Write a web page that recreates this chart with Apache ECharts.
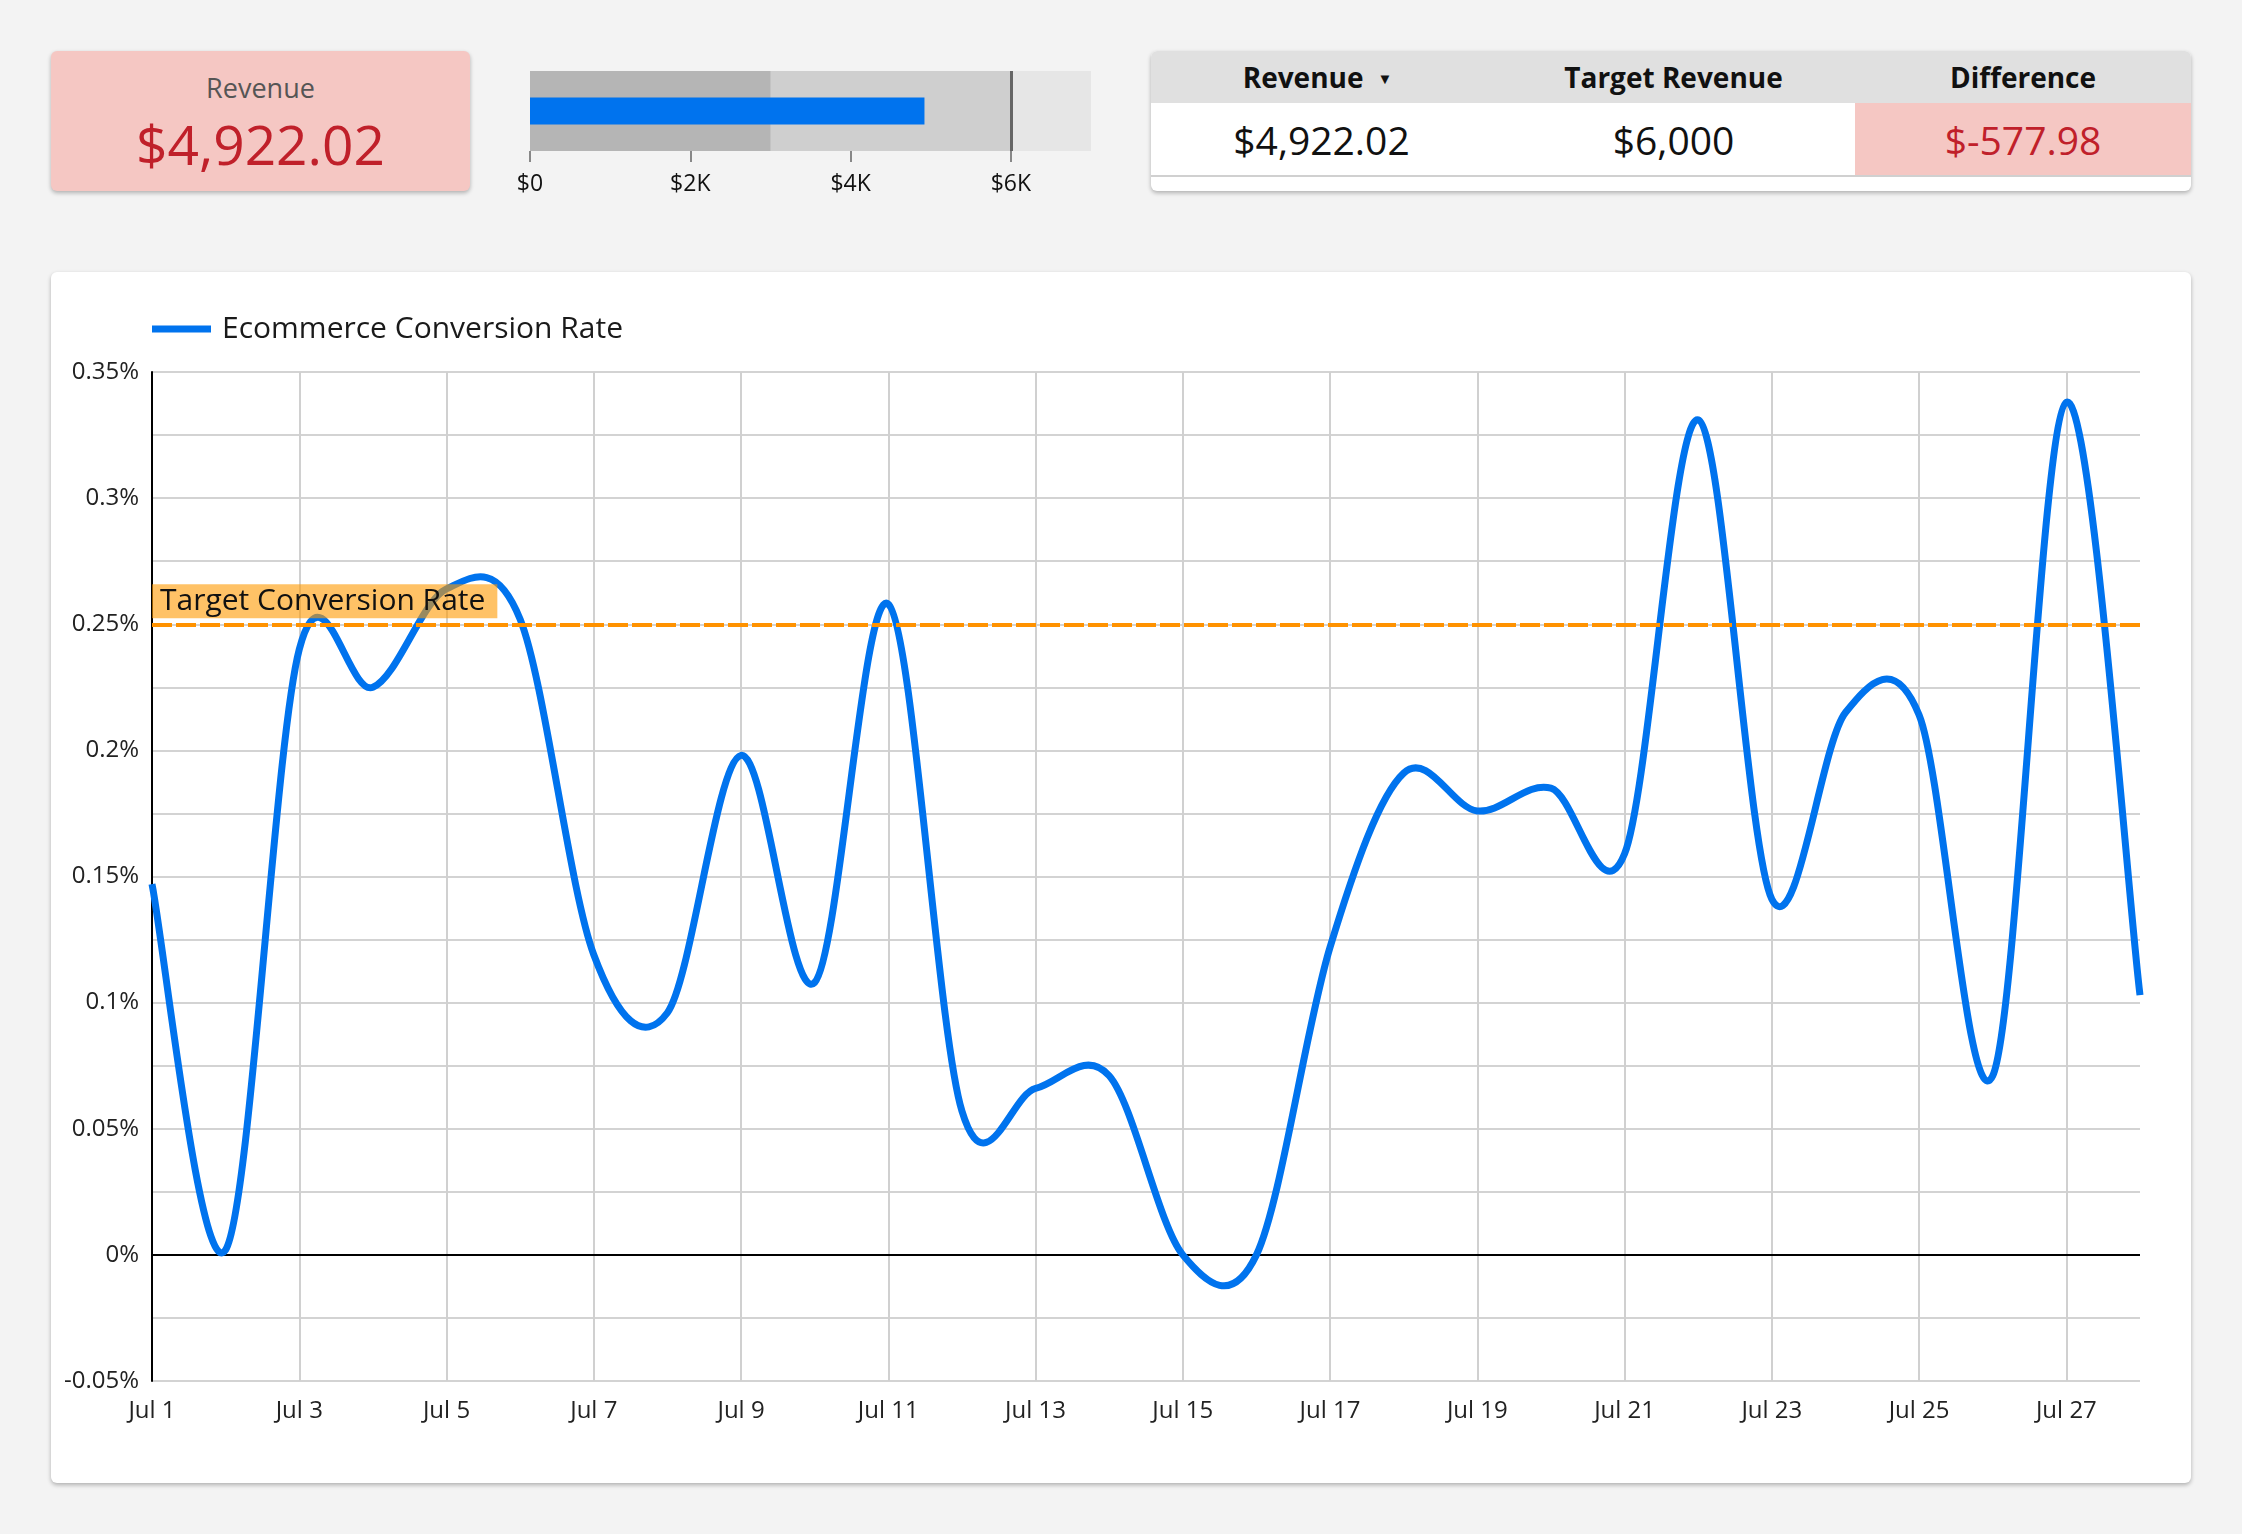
<!DOCTYPE html>
<html>
<head>
<meta charset="utf-8">
<script src="https://cdn.jsdelivr.net/npm/echarts@6.0.0/dist/echarts.min.js"></script>
<style>
  html, body { margin: 0; padding: 0; }
  body {
    width: 2242px; height: 1534px; position: relative; overflow: hidden;
    background: #f3f3f3; font-family: 'Open Sans', sans-serif;
  }
  .card {
    position: absolute; border-radius: 6px;
    box-shadow: 0 2px 4px rgba(0, 0, 0, 0.28);
  }
  #score { left: 51px; top: 51px; width: 419px; height: 140px; background: #f5c7c3; text-align: center; }
  #score .lbl { position: absolute; left: 0; right: 0; top: 18px; font-size: 27px; color: #555; }
  #score .val { position: absolute; left: 0; right: 0; top: 55px; font-size: 55px; color: #c0202a; line-height: 76px; }
  #tbl { left: 1151px; top: 51px; width: 1040px; height: 140px; background: #fff; overflow: hidden; }
  #tbl table { border-collapse: collapse; width: 1040px; table-layout: fixed; }
  #tbl th { height: 52px; background: #e0e0e0; font-size: 28px; font-weight: 700; color: #111; padding: 0; }
  #tbl td { height: 72px; font-size: 39px; color: #111; text-align: center; padding: 0; border-bottom: 2px solid #d0d0d0; }
  #tbl td.neg { background: #f5c7c3; color: #c0202a; }
  #tbl .arrow { font-size: 15px; margin-left: 14px; vertical-align: 4px; }
  #tbl th.first { padding-right: 8px; }
  #panel { left: 51px; top: 272px; width: 2140px; height: 1211px; background: #fff; }
  #chart { position: absolute; left: 0; top: 0; width: 2242px; height: 1534px; }
</style>
</head>
<body>
<div class="card" id="score">
  <div class="lbl">Revenue</div>
  <div class="val">$4,922.02</div>
</div>
<div class="card" id="tbl">
  <table>
    <colgroup><col style="width:341px"><col style="width:363px"><col style="width:336px"></colgroup>
    <tr><th class="first">Revenue<span class="arrow">&#9660;</span></th><th>Target Revenue</th><th>Difference</th></tr>
    <tr><td>$4,922.02</td><td>$6,000</td><td class="neg">$-577.98</td></tr>
  </table>
</div>
<div class="card" id="panel"></div>
<div id="chart"></div>
<script>
// 날짜
var days = ['Jul 1', 'Jul 2', 'Jul 3', 'Jul 4', 'Jul 5', 'Jul 6', 'Jul 7', 'Jul 8', 'Jul 9', 'Jul 10',
  'Jul 11', 'Jul 12', 'Jul 13', 'Jul 14', 'Jul 15', 'Jul 16', 'Jul 17', 'Jul 18', 'Jul 19', 'Jul 20',
  'Jul 21', 'Jul 22', 'Jul 23', 'Jul 24', 'Jul 25', 'Jul 26', 'Jul 27', 'Jul 28'];

// 전환율 (%)
var conversionRate = [0.147, 0.002, 0.240, 0.225, 0.264, 0.252, 0.119, 0.096, 0.198, 0.108,
  0.258, 0.057, 0.066, 0.071, 0.000, 0.000, 0.122, 0.191, 0.176, 0.185,
  0.159, 0.331, 0.141, 0.215, 0.214, 0.071, 0.338, 0.103];

var targetRate = 0.25;

// 불릿 차트
var bulletRanges = [7000, 6000, 3000];
var bulletColors = ['#e6e6e6', '#cfcfcf', '#b5b5b5'];
var bulletTicks = [0, 2000, 4000, 6000];
var revenue = 4922.02;
var targetRevenue = 6000;

var blue = '#0073ee';
var font = 'Open Sans';

var chart = echarts.init(document.getElementById('chart'));

var bandSeries = bulletRanges.map(function (v, i) {
  return {
    type: 'bar',
    xAxisIndex: 0,
    yAxisIndex: 0,
    data: [v],
    barWidth: 80,
    barGap: '-100%',
    silent: true,
    itemStyle: { color: bulletColors[i] }
  };
});

// Catmull-Rom 곡선 (축 좌표로 변환 후 그림)
function renderCurve(params, api) {
  if (params.dataIndex !== 0) return null;
  var p = conversionRate.map(function (v, i) { return api.coord([i, v]); });
  var d = 'M' + p[0][0] + ' ' + p[0][1];
  for (var i = 0; i < p.length - 1; i++) {
    var p0 = p[i - 1] || p[i];
    var p1 = p[i];
    var p2 = p[i + 1];
    var p3 = p[i + 2] || p[i + 1];
    var c1x = p1[0] + (p2[0] - p0[0]) / 6;
    var c1y = p1[1] + (p2[1] - p0[1]) / 6;
    var c2x = p2[0] - (p3[0] - p1[0]) / 6;
    var c2y = p2[1] - (p3[1] - p1[1]) / 6;
    d += ' C' + c1x + ' ' + c1y + ' ' + c2x + ' ' + c2y + ' ' + p2[0] + ' ' + p2[1];
  }
  return {
    type: 'path',
    shape: { pathData: d },
    style: { fill: null, stroke: blue, lineWidth: 7, lineJoin: 'round' }
  };
}

var option = {
  animation: false,
  textStyle: { fontFamily: font },
  legend: {
    data: ['Ecommerce Conversion Rate'],
    left: 152,
    top: 311,
    padding: 0,
    icon: 'rect',
    itemWidth: 59,
    itemHeight: 7,
    textStyle: { fontSize: 30, color: '#1a1a1a', lineHeight: 36, padding: [0, 0, 0, 6] }
  },
  grid: [
    { left: 530, top: 71, width: 561, height: 80 },
    { left: 152, top: 372, right: 102, bottom: 153 }
  ],
  xAxis: [
    {
      gridIndex: 0,
      type: 'value',
      min: 0,
      max: 7000,
      interval: 1000,
      axisLine: { show: false },
      splitLine: { show: false },
      axisTick: { show: true, length: 11, customValues: bulletTicks, lineStyle: { color: '#888', width: 2 } },
      axisLabel: {
        customValues: bulletTicks,
        fontSize: 23,
        color: '#111',
        margin: 22,
        formatter: function (v) { return v === 0 ? '$0' : '$' + (v / 1000) + 'K'; }
      }
    },
    {
      gridIndex: 1,
      type: 'category',
      boundaryGap: false,
      data: days,
      axisLine: { show: false },
      axisTick: { show: false },
      axisLabel: { interval: 1, fontSize: 24, color: '#222', margin: 18 },
      splitLine: { show: true, interval: 1, lineStyle: { color: '#d0d0d0', width: 2 } }
    }
  ],
  yAxis: [
    { gridIndex: 0, type: 'category', data: ['Revenue'], show: false },
    { gridIndex: 0, type: 'category', data: ['Revenue'], show: false },
    {
      gridIndex: 1,
      type: 'value',
      min: -0.05,
      max: 0.35,
      interval: 0.05,
      axisLine: { show: true, lineStyle: { color: '#000', width: 2 } },
      axisTick: { show: false },
      axisLabel: {
        fontSize: 24,
        color: '#222',
        margin: 13,
        formatter: function (v) { return parseFloat(v.toFixed(3)) + '%'; }
      },
      splitLine: { lineStyle: { color: '#d3d3d3', width: 2 } },
      minorTick: { show: false, splitNumber: 2 },
      minorSplitLine: { show: true, lineStyle: { color: '#d3d3d3', width: 2 } }
    }
  ],
  series: bandSeries.concat([
    {
      type: 'bar',
      xAxisIndex: 0,
      yAxisIndex: 1,
      data: [revenue],
      barWidth: 27,
      silent: true,
      itemStyle: { color: blue },
      markLine: {
        silent: true,
        symbol: 'none',
        label: { show: false },
        lineStyle: { color: '#666', width: 3, type: 'solid' },
        data: [{ xAxis: targetRevenue }]
      }
    },
    {
      name: 'Zero',
      type: 'line',
      xAxisIndex: 1,
      yAxisIndex: 2,
      data: [],
      markLine: {
        silent: true,
        z: 1,
        symbol: 'none',
        label: { show: false },
        lineStyle: { color: '#000', width: 2, type: 'solid' },
        data: [{ yAxis: 0 }]
      }
    },
    {
      name: 'Ecommerce Conversion Rate',
      type: 'custom',
      xAxisIndex: 1,
      yAxisIndex: 2,
      z: 3,
      silent: true,
      data: conversionRate.map(function (v, i) { return [i, v]; }),
      encode: { x: 0, y: 1 },
      itemStyle: { color: blue },
      renderItem: renderCurve
    },
    {
      name: 'Target Conversion Rate',
      type: 'line',
      xAxisIndex: 1,
      yAxisIndex: 2,
      data: [],
      markLine: {
        silent: true,
        z: 6,
        symbol: 'none',
        lineStyle: { color: '#ff9200', width: 4, type: [20, 4] },
        label: {
          show: true,
          position: 'insideStartTop',
          formatter: 'Target Conversion Rate',
          fontSize: 30,
          color: '#111',
          backgroundColor: 'rgba(255, 153, 0, 0.6)',
          padding: [2, 12, 2, 8],
          distance: [0, 6]
        },
        data: [{ yAxis: targetRate }]
      }
    }
  ])
};

chart.setOption(option);
</script>
</body>
</html>
